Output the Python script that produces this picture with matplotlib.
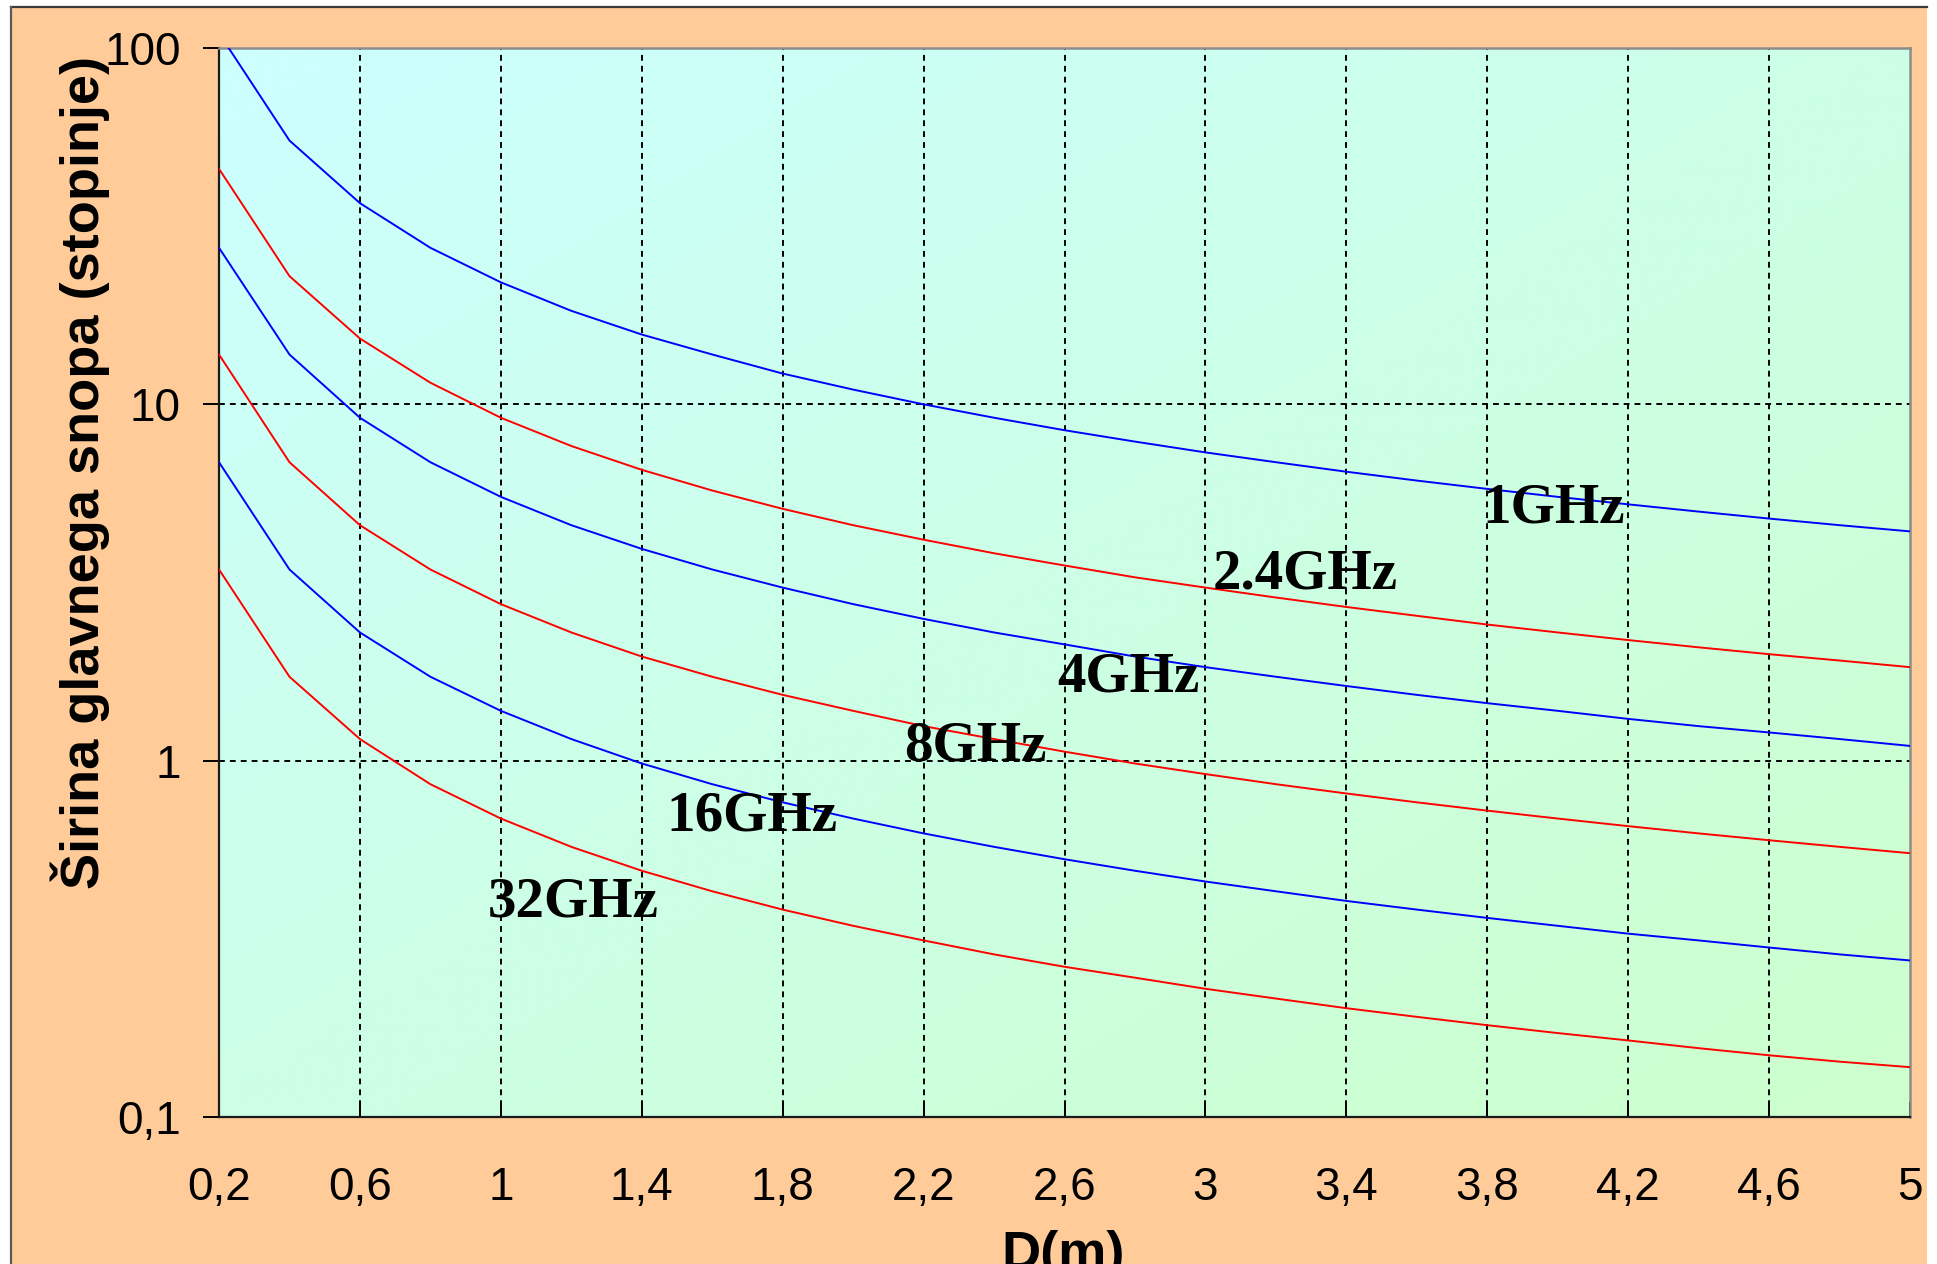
import numpy as np
import matplotlib
matplotlib.use("Agg")
import matplotlib.pyplot as plt
from matplotlib.lines import Line2D
from matplotlib.patches import Rectangle

# antenna diameter (m)
D = [0.2, 0.4, 0.6, 0.8, 1.0, 1.2, 1.4, 1.6, 1.8, 2.0, 2.2, 2.4, 2.6,
     2.8, 3.0, 3.2, 3.4, 3.6, 3.8, 4.0, 4.2, 4.4, 4.6, 4.8, 5.0]

# main beam width (degrees) for each frequency
bw_1ghz = [110, 55, 36.7, 27.5, 22, 18.3, 15.7, 13.8, 12.2, 11.0, 10.0, 9.17, 8.46,
           7.86, 7.33, 6.88, 6.47, 6.11, 5.79, 5.50, 5.24, 5.00, 4.78, 4.58, 4.40]
bw_2g4 = [45.8, 22.9, 15.3, 11.5, 9.17, 7.64, 6.55, 5.73, 5.09, 4.58, 4.17, 3.82, 3.53,
          3.27, 3.06, 2.87, 2.70, 2.55, 2.41, 2.29, 2.18, 2.08, 1.99, 1.91, 1.83]
bw_4ghz = [27.5, 13.8, 9.17, 6.88, 5.50, 4.58, 3.93, 3.44, 3.06, 2.75, 2.50, 2.29, 2.12,
           1.96, 1.83, 1.72, 1.62, 1.53, 1.45, 1.38, 1.31, 1.25, 1.20, 1.15, 1.10]
bw_8ghz = [13.8, 6.88, 4.58, 3.44, 2.75, 2.29, 1.96, 1.72, 1.53, 1.38, 1.25, 1.15, 1.06,
           0.982, 0.917, 0.859, 0.809, 0.764, 0.724, 0.688, 0.655, 0.625, 0.598, 0.573, 0.550]
bw_16ghz = [6.88, 3.44, 2.29, 1.72, 1.38, 1.15, 0.982, 0.859, 0.764, 0.688, 0.625, 0.573, 0.529,
            0.491, 0.458, 0.430, 0.404, 0.382, 0.362, 0.344, 0.327, 0.313, 0.299, 0.286, 0.275]
bw_32ghz = [3.44, 1.72, 1.15, 0.859, 0.688, 0.573, 0.491, 0.430, 0.382, 0.344, 0.313, 0.286, 0.264,
            0.246, 0.229, 0.215, 0.202, 0.191, 0.181, 0.172, 0.164, 0.156, 0.149, 0.143, 0.138]

series = [bw_1ghz, bw_2g4, bw_4ghz, bw_8ghz, bw_16ghz, bw_32ghz]
colors = ["#0000FF", "#FF0000", "#0000FF", "#FF0000", "#0000FF", "#FF0000"]

# curve labels and where they sit (left edge, baseline)
names = ["1GHz", "2.4GHz", "4GHz", "8GHz", "16GHz", "32GHz"]
name_x = [3.785, 3.02, 2.58, 2.145, 1.47, 0.963]
name_y = [4.67, 3.05, 1.56, 1.0, 0.638, 0.365]

xticks = [0.2, 0.6, 1.0, 1.4, 1.8, 2.2, 2.6, 3.0, 3.4, 3.8, 4.2, 4.6, 5.0]
xticklabels = ["0,2", "0,6", "1", "1,4", "1,8", "2,2", "2,6", "3", "3,4", "3,8", "4,2", "4,6", "5"]
yticks = [0.1, 1, 10, 100]
yticklabels = ["0,1", "1", "10", "100"]

W, H = 1937, 1264
fig = plt.figure(figsize=(W / 100, H / 100), dpi=100, facecolor="white")

# peach panel with dark edge on top and left
fig.patches.append(Rectangle((11 / W, 0), (1927 - 11) / W, 1 - 7 / H,
                             transform=fig.transFigure, facecolor="#FFCC99",
                             edgecolor="none", zorder=0))
fig.lines.append(Line2D([11 / W, 1927 / W], [1 - 7 / H, 1 - 7 / H],
                        transform=fig.transFigure, color="#3a3a3a", lw=1.6))
fig.lines.append(Line2D([11 / W, 11 / W], [0, 1 - 7 / H],
                        transform=fig.transFigure, color="#5a5a5a", lw=1.6))

pos = [219 / W, 1 - 1117 / H, (1910 - 219) / W, (1117 - 48) / H]

# diagonal cyan -> light green fill behind the plot
bg = fig.add_axes(pos, zorder=1)
n = 256
gx, gy = np.meshgrid(np.linspace(0, 1, n), np.linspace(0, 1, n))
t = (gx + gy) / 2
rgb = np.zeros((n, n, 3))
rgb[..., 0] = 204 / 255
rgb[..., 1] = 1.0
rgb[..., 2] = (255 - 51 * t) / 255
bg.imshow(rgb, extent=[0, 1, 0, 1], aspect="auto", interpolation="bilinear")
bg.axis("off")

ax = fig.add_axes(pos, zorder=2)
ax.patch.set_alpha(0)
ax.set_yscale("log")
ax.set_xlim(0.2, 5)
ax.set_ylim(0.1, 100)

for gxv in xticks[1:-1]:
    ax.axvline(gxv, color="black", lw=1.4, ls=(0, (3, 2.6)), zorder=1)
for gyv in [1, 10]:
    ax.axhline(gyv, color="black", lw=1.4, ls=(0, (3, 2.6)), zorder=1)

for vals, c in zip(series, colors):
    ax.plot(D, vals, color=c, lw=1.4, zorder=3)

for name, x, y in zip(names, name_x, name_y):
    ax.text(x, y, name, family="Liberation Serif", weight="bold", fontsize=41,
            ha="left", va="baseline", zorder=4)

ax.set_xticks(xticks)
ax.set_xticklabels(xticklabels)
ax.set_yticks(yticks)
ax.set_yticklabels(yticklabels)
ax.yaxis.set_minor_locator(matplotlib.ticker.NullLocator())

for lab in ax.get_xticklabels() + ax.get_yticklabels():
    lab.set_fontfamily("Liberation Sans")
    lab.set_fontsize(33)
ax.tick_params(axis="x", direction="in", length=11, width=1.4, pad=35)
ax.tick_params(axis="y", direction="out", length=11.5, width=1.4, pad=16)

for side in ["left", "bottom"]:
    ax.spines[side].set_color("#1a1a1a")
    ax.spines[side].set_linewidth(1.6)
for side in ["top", "right"]:
    ax.spines[side].set_color("#8c8c8c")
    ax.spines[side].set_linewidth(1.8)

fig.text(80 / W, 1 - 472 / H, "Širina glavnega snopa (stopinje)",
         family="Liberation Sans", weight="bold", fontsize=39,
         rotation=90, ha="center", va="center")
fig.text(1063 / W, 1 - 1230 / H, "D(m)", family="Liberation Sans",
         weight="bold", fontsize=39, ha="center", va="top")

fig.savefig("out.png", dpi=100, facecolor="white")
